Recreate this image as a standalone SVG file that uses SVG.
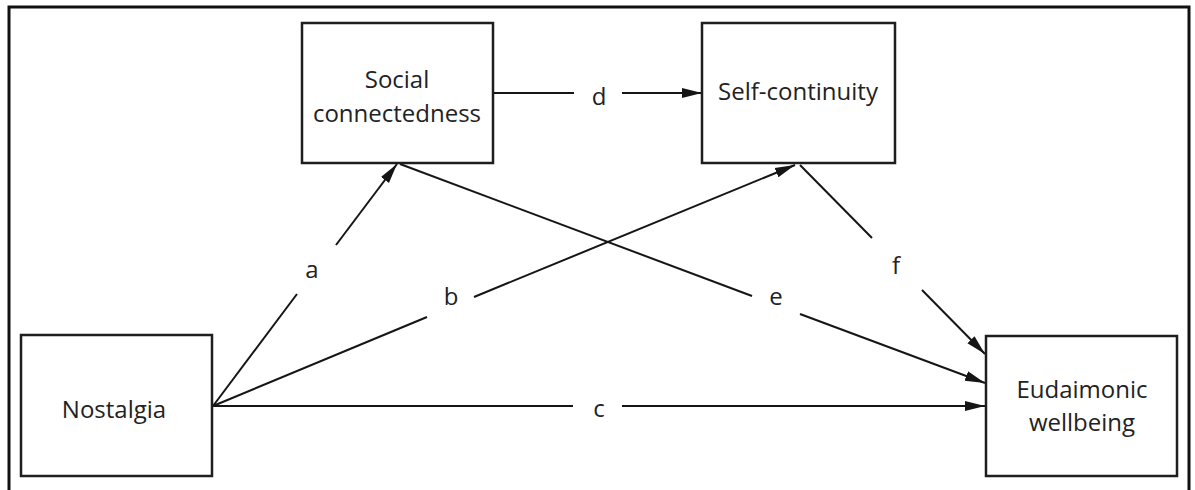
<svg xmlns="http://www.w3.org/2000/svg" width="1195" height="490" viewBox="0 0 1195 490">
  <style>
    .box { fill: #ffffff; stroke: #1e1e1e; stroke-width: 2.5; }
    .frame { fill: none; stroke: #111111; stroke-width: 3; }
    .txt { font-family: "Open Sans", "Noto Sans", sans-serif; font-size: 24px; fill: #222222; text-anchor: middle; }
    .lbl { font-family: "Open Sans", "Noto Sans", sans-serif; font-size: 24px; fill: #222222; text-anchor: middle; }
    .ln { fill: none; stroke: #151515; stroke-width: 2; }
    .arr { marker-end: url(#ah); }
  </style>
  <defs>
    <marker id="ah" markerUnits="userSpaceOnUse" markerWidth="22" markerHeight="12" refX="20" refY="6" orient="auto">
      <path d="M0,1 L20,6 L0,11 z" fill="#151515"/>
    </marker>
  </defs>
  <rect x="0" y="0" width="1195" height="490" fill="#ffffff"/>
  <path class="frame" d="M9,492 L9,7 L1189,7 L1189,492"/>

  <g id="connectors">
    <line class="ln" x1="213" y1="406" x2="297" y2="294"/>
    <line class="ln arr" x1="336" y1="245" x2="397" y2="164"/>
    <line class="ln" x1="213" y1="406" x2="427" y2="317"/>
    <line class="ln arr" x1="474" y1="297" x2="795" y2="165"/>
    <line class="ln" x1="213" y1="406" x2="573" y2="406"/>
    <line class="ln arr" x1="622" y1="406" x2="985" y2="406"/>
    <line class="ln" x1="493" y1="93" x2="574" y2="93"/>
    <line class="ln arr" x1="622" y1="93" x2="702" y2="93"/>
    <line class="ln" x1="400" y1="164" x2="752" y2="296"/>
    <line class="ln arr" x1="800" y1="314" x2="985" y2="383"/>
    <line class="ln" x1="800" y1="165" x2="872" y2="238"/>
    <line class="ln arr" x1="922" y1="290" x2="985" y2="354"/>
    <text class="lbl" x="312" y="278">a</text>
    <text class="lbl" x="451" y="305">b</text>
    <text class="lbl" x="599" y="417">c</text>
    <text class="lbl" x="599" y="105">d</text>
    <text class="lbl" x="776" y="305">e</text>
    <text class="lbl" x="896" y="274">f</text>
  </g>

  <g id="social">
    <rect class="box" x="302" y="23" width="191" height="140"/>
    <text class="txt" x="397" y="88">Social</text>
    <text class="txt" x="397" y="122">connectedness</text>
  </g>
  <g id="selfcontinuity">
    <rect class="box" x="702" y="23" width="193" height="140"/>
    <text class="txt" x="798" y="100">Self-continuity</text>
  </g>
  <g id="nostalgia">
    <rect class="box" x="21" y="335" width="191" height="141"/>
    <text class="txt" x="114" y="418">Nostalgia</text>
  </g>
  <g id="eudaimonic">
    <rect class="box" x="986" y="336" width="191" height="140"/>
    <text class="txt" x="1082" y="398">Eudaimonic</text>
    <text class="txt" x="1082" y="431">wellbeing</text>
  </g>
</svg>
